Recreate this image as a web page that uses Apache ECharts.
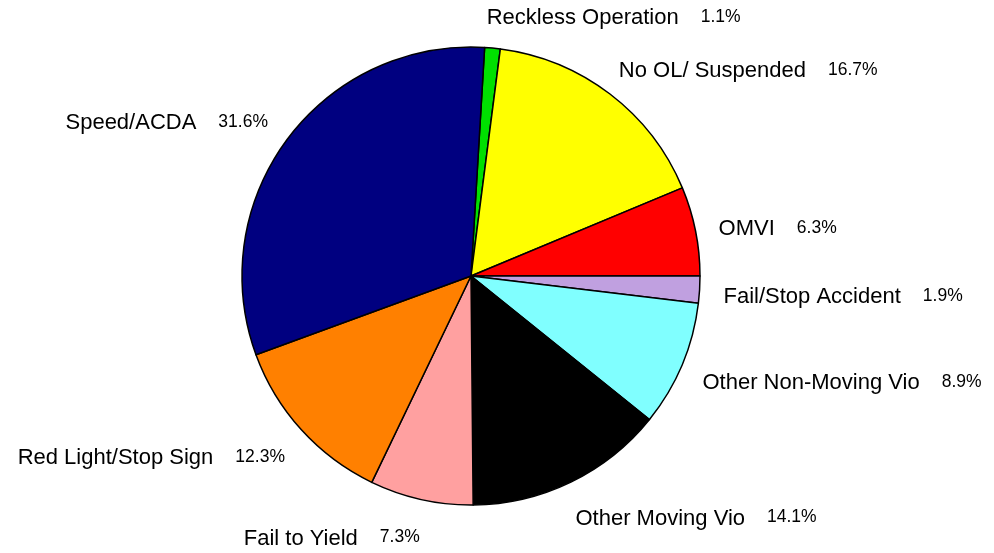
<!DOCTYPE html>
<html>
<head>
<meta charset="utf-8">
<script src="https://cdn.jsdelivr.net/npm/echarts@6/dist/echarts.min.js"></script>
<style>
html, body { margin: 0; padding: 0; background: #fff; }
#container { width: 994px; height: 553px; }
</style>
</head>
<body>
<div id="container"></div>
<script>
var categories = ['Reckless Operation', 'No OL/ Suspended', 'OMVI', 'Fail/Stop Accident',
    'Other Non-Moving Vio', 'Other Moving Vio', 'Fail to Yield', 'Red Light/Stop Sign', 'Speed/ACDA'];
var percents = [1.1, 16.7, 6.3, 1.9, 8.9, 14.1, 7.3, 12.3, 31.6];
var colors = ['#00e000', '#ffff00', '#ff0000', '#c0a0e0', '#80ffff', '#000000', '#ffa0a0', '#ff8000', '#000080'];

var dom = document.getElementById("container");
var myChart = echarts.init(dom);

var cx = 471, cy = 276, R = 229;
var total = percents.reduce(function (a, b) { return a + b; }, 0);
// first three slices end exactly at 3 o'clock
var startAngle = 360 * (percents[0] + percents[1] + percents[2]) / total;

function midAngle(idx) {
    var before = 0;
    for (var i = 0; i < idx; i++) before += percents[i];
    var mid = (before + percents[idx] / 2) / total * 360;
    return (startAngle - mid) * Math.PI / 180;
}

var data = categories.map(function (name, i) {
    return { name: name, value: percents[i], itemStyle: { color: colors[i] } };
});

option = {
    animation: false,
    series: [
        {
            type: 'pie',
            center: [cx, cy],
            radius: R,
            startAngle: startAngle,
            clockwise: true,
            avoidLabelOverlap: false,
            itemStyle: { borderColor: '#000', borderWidth: 1.5 },
            label: {
                show: true,
                position: 'outside',
                formatter: function (p) {
                    return '{n|' + p.name + '}{p|' + p.value.toFixed(1) + '%}';
                },
                rich: {
                    n: { fontFamily: 'Liberation Sans', fontSize: 22, color: '#000', verticalAlign: 'bottom', lineHeight: 24 },
                    p: { fontFamily: 'Liberation Sans', fontSize: 17.5, color: '#000', verticalAlign: 'bottom', lineHeight: 24, padding: [0, 0, 3, 22] }
                }
            },
            labelLine: { show: false },
            // excel-like "outside end" placement
            labelLayout: function (params) {
                var a = midAngle(params.dataIndex);
                var c = Math.cos(a), s = Math.sin(a);
                var k = c >= 0 ? 24 : 30;
                return {
                    x: cx + R * c + k * c * Math.abs(c) - (Math.abs(c) < 0.2 ? 6 : 0),
                    y: cy + 4 - (R + 35) * s,
                    align: c >= 0 ? 'left' : 'right',
                    verticalAlign: 'middle'
                };
            },
            emphasis: { disabled: true },
            data: data
        }
    ]
};

if (option && typeof option === "object") {
    myChart.setOption(option, true);
}
</script>
</body>
</html>
